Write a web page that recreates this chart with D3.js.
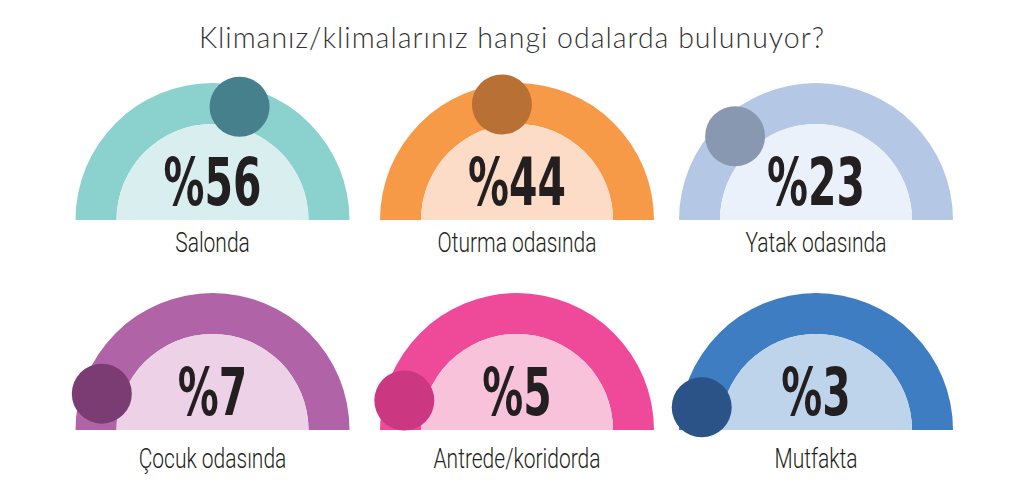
<!DOCTYPE html>
<html>
<head>
<meta charset="utf-8">
<script src="https://cdn.jsdelivr.net/npm/d3@7"></script>
<style>
  html, body { margin: 0; padding: 0; background: #fff; }
  svg { display: block; }
</style>
</head>
<body>
<svg id="chart" width="1024" height="495"></svg>
<script>
// Survey: which rooms have the air conditioner(s)
var title = "Klimanız/klimalarınız hangi odalarda bulunuyor?";
var categories = ["Salonda", "Oturma odasında", "Yatak odasında",
                  "Çocuk odasında", "Antrede/koridorda", "Mutfakta"];
var values = [56, 44, 23, 7, 5, 3];

// band, inner fill, marker dot
var bandColors = ["#8bd1ce", "#f79a48", "#b4c8e6", "#b063a6", "#ef4a9a", "#3e7dc1"];
var fillColors = ["#d9eeee", "#fcdcc6", "#eaf1fa", "#ecd1e7", "#f8c2db", "#bed4eb"];
var dotColors  = ["#47808d", "#b87035", "#8898b0", "#7b3c73", "#cc3782", "#2b5388"];

var W = 1024, H = 495;
var colX = [212.5, 517, 816];
var rowY = [220, 430];
var labelDy = [32, 38];
var rOuter = 137, rInner = 96, rDot = 30, rTrack = 116.5;

var svg = d3.select("#chart");

svg.append("text")
    .attr("x", 512)
    .attr("y", 48)
    .attr("text-anchor", "middle")
    .style("font-family", "'Lato Light', Lato, 'Open Sans', sans-serif")
    .style("font-weight", 300)
    .style("font-size", "28.5px")
    .style("letter-spacing", "1px")
    .style("fill", "#333")
    .text(title);

// percent -> angle (degrees from vertical), the dots never leave the band
var angle = d3.scaleLinear().domain([0, 100]).range([-84, 90]);

var bandArc = d3.arc()
    .innerRadius(rInner).outerRadius(rOuter)
    .startAngle(-Math.PI / 2).endAngle(Math.PI / 2);
var fillArc = d3.arc()
    .innerRadius(0).outerRadius(rInner)
    .startAngle(-Math.PI / 2).endAngle(Math.PI / 2);

var gauges = svg.selectAll("g.gauge")
    .data(values)
    .enter().append("g")
    .attr("class", "gauge")
    .attr("transform", function (d, i) {
        return "translate(" + colX[i % 3] + "," + rowY[Math.floor(i / 3)] + ")";
    });

gauges.append("path")
    .attr("d", bandArc)
    .attr("fill", function (d, i) { return bandColors[i]; });

gauges.append("path")
    .attr("d", fillArc)
    .attr("fill", function (d, i) { return fillColors[i]; });

gauges.append("circle")
    .attr("r", rDot)
    .attr("cx", function (d) { return rTrack * Math.sin(angle(d) * Math.PI / 180); })
    .attr("cy", function (d) { return -rTrack * Math.cos(angle(d) * Math.PI / 180); })
    .attr("fill", function (d, i) { return dotColors[i]; });

gauges.append("text")
    .attr("transform", "translate(0,-15) scale(0.70,1)")
    .attr("text-anchor", "middle")
    .style("font-family", "'DejaVu Sans Condensed', 'DejaVu Sans', sans-serif")
    .style("font-weight", 700)
    .style("font-size", "65px")
    .style("fill", "#231f20")
    .text(function (d) { return "%" + d; });

gauges.append("text")
    .attr("transform", function (d, i) {
        return "translate(0," + labelDy[Math.floor(i / 3)] + ") scale(0.75,1)";
    })
    .attr("text-anchor", "middle")
    .style("font-family", "Roboto, 'Open Sans', sans-serif")
    .style("font-weight", 300)
    .style("font-size", "28px")
    .style("fill", "#231f20")
    .text(function (d, i) { return categories[i]; });
</script>
</body>
</html>
